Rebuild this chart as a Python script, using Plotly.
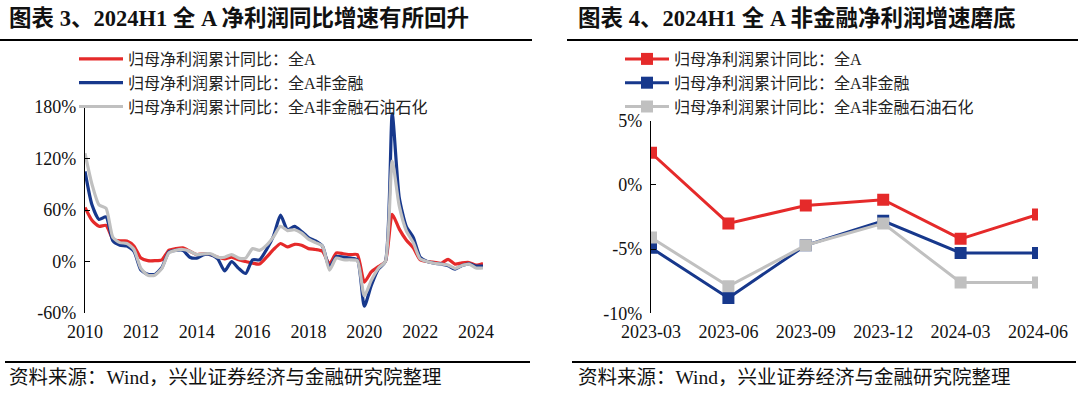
import pandas as pd
import plotly.graph_objects as go

# ---------------- data ----------------
quarters = pd.date_range("2010-03-31", periods=58, freq="QE")

all_a = [63, 48, 41, 42, 26, 24, 24, 18, 4, 1, 1, 2, 13, 15, 16, 12, 8, 9, 8, 5,
         3, 5, 2, 0, -2, -3, 5, 14, 21, 17, 20, 19, 15, 14, 12, -3, 10, 9, 8, 8,
         -24, -12, -6, 0, 55, 38, 25, 16, 2, 0, -1, -2, 2.5, -3.0, -1.6, -1.2, -4.2, -2.3]
non_fin = [105, 66, 49, 52, 24, 19, 18, 12, -10, -15, -15, -7, 11, 13, 13, 5, 4, 8, 8, 3,
           -11, 0, -8, -14, 2, 2, 14, 30, 54, 37, 41, 35, 28, 24, 18, -7, 6, 5, 4, 2,
           -52, -28, -9, 0, 172, 75, 41, 28, 5, 0, -2, -3, -4.9, -8.8, -4.7, -2.8, -5.3, -5.3]
non_fin_oil = [126, 90, 66, 62, 28, 22, 21, 14, -8, -16, -16, -8, 10, 13, 14, 12, 8, 9, 9, 5,
               5, 8, 4, 4, 15, 13, 19, 29, 41, 36, 37, 33, 26, 22, 18, -10, 4, 2, 2, 1,
               -40, -22, -8, 0, 117, 65, 36, 22, 3, 0, -2, -3, -4.1, -7.9, -4.7, -3.0, -7.6, -7.6]

recent_q = ["2023-03", "2023-06", "2023-09", "2023-12", "2024-03", "2024-06"]
recent_all_a = [2.5, -3.0, -1.6, -1.15, -4.2, -2.3]
recent_non_fin = [-4.9, -8.8, -4.7, -2.8, -5.3, -5.3]
recent_non_fin_oil = [-4.1, -7.9, -4.7, -3.0, -7.6, -7.6]

names = ["归母净利润累计同比：全A", "归母净利润累计同比：全A非金融", "归母净利润累计同比：全A非金融石油石化"]
colors = ["#E52A2A", "#17388C", "#C0C0C0"]

left_yticks = [-60, 0, 60, 120, 180]
left_ytext = ["-60%", "0%", "60%", "120%", "180%"]
right_yticks = [-10, -5, 0, 5]
right_ytext = ["-10%", "-5%", "0%", "5%"]

title_left = "图表 3、2024H1 全 A 净利润同比增速有所回升"
title_right = "图表 4、2024H1 全 A 非金融净利润增速磨底"
source_text = "资料来源：Wind，兴业证券经济与金融研究院整理"

# ---------------- layout geometry ----------------
W, H = 1080, 395
def px(x): return x / W
def py(y): return 1 - y / H

FONT = "Liberation Serif, Noto Sans CJK SC, serif"

L_dom_x = [px(85), px(483)]
L_dom_y = [py(313), py(107)]
R_dom_x = [px(651), px(1038)]
R_dom_y = [py(313.3), py(120.7)]

L_zero = L_dom_y[0] + (0 - (-60)) / 240 * (L_dom_y[1] - L_dom_y[0])
R_zero = R_dom_y[0] + (0 - (-10)) / 15 * (R_dom_y[1] - R_dom_y[0])

fig = go.Figure()

for name, vals, c in zip(names, [all_a, non_fin, non_fin_oil], colors):
    fig.add_trace(go.Scatter(
        x=quarters, y=vals, name=name, mode="lines",
        line=dict(color=c, width=3.2, shape="spline", smoothing=0.6),
        xaxis="x", yaxis="y", legend="legend"))

for name, vals, c in zip(names, [recent_all_a, recent_non_fin, recent_non_fin_oil], colors):
    fig.add_trace(go.Scatter(
        x=recent_q, y=vals, name=name, mode="lines+markers",
        line=dict(color=c, width=3),
        marker=dict(symbol="square", size=12, color=c),
        xaxis="x2", yaxis="y2", legend="legend2"))

tickfont = dict(family=FONT, size=18, color="#111")
legfont = dict(family=FONT, size=16, color="#222")

fig.update_layout(
    width=W, height=H,
    margin=dict(l=0, r=0, t=0, b=0, autoexpand=False),
    paper_bgcolor="white", plot_bgcolor="white",
    showlegend=True,
    xaxis=dict(domain=L_dom_x, anchor="y", type="date",
               range=["2010-03-31", "2024-06-30"],
               tick0="2010-03-31", dtick="M24", tickformat="%Y",
               showline=False, ticks="", showgrid=False, zeroline=False,
               tickfont=tickfont, ticklabelstandoff=6, automargin=False),
    xaxis3=dict(overlaying="x", matches="x", anchor="free", position=L_zero,
                type="date", tick0="2010-03-31", dtick="M24",
                showline=True, linecolor="black", linewidth=1.3,
                ticks="inside", ticklen=5, tickcolor="black",
                showticklabels=False, showgrid=False, zeroline=False, automargin=False),
    yaxis=dict(domain=L_dom_y, anchor="x", range=[-60, 180],
               tickvals=left_yticks, ticktext=left_ytext,
               showline=True, linecolor="black", linewidth=1.3,
               ticks="inside", ticklen=5, tickcolor="black",
               showgrid=False, zeroline=False, tickfont=tickfont,
               ticklabelstandoff=4, automargin=False),
    xaxis2=dict(domain=R_dom_x, anchor="y2", type="category",
                range=[0, 5], showline=False, ticks="", showgrid=False,
                zeroline=False, tickfont=tickfont, ticklabelstandoff=6, automargin=False),
    xaxis4=dict(overlaying="x2", matches="x2", anchor="free", position=R_zero,
                type="category",
                showline=True, linecolor="black", linewidth=1.3,
                ticks="inside", ticklen=5, tickcolor="black",
                showticklabels=False, showgrid=False, zeroline=False, automargin=False),
    yaxis2=dict(domain=R_dom_y, anchor="x2", range=[-10, 5],
                tickvals=right_yticks, ticktext=right_ytext,
                showline=True, linecolor="black", linewidth=1.3,
                ticks="inside", ticklen=5, tickcolor="black",
                showgrid=False, zeroline=False, tickfont=tickfont,
                ticklabelstandoff=4, automargin=False),
    legend=dict(x=px(74), y=py(42), xanchor="left", yanchor="top",
                font=legfont, bgcolor="rgba(0,0,0,0)", tracegroupgap=0, itemwidth=44),
    legend2=dict(x=px(620), y=py(42), xanchor="left", yanchor="top",
                 font=legfont, bgcolor="rgba(0,0,0,0)", tracegroupgap=0, itemwidth=44),
)

# titles
fig.add_annotation(text="<b>" + title_left + "</b>", x=px(7), y=py(18), xref="paper", yref="paper",
                   xanchor="left", yanchor="middle", showarrow=False,
                   font=dict(family=FONT, size=22.5, color="#111"))
fig.add_annotation(text="<b>" + title_right + "</b>", x=px(576), y=py(18), xref="paper", yref="paper",
                   xanchor="left", yanchor="middle", showarrow=False,
                   font=dict(family=FONT, size=22.5, color="#111"))
# sources
for sx in [px(7), px(576)]:
    fig.add_annotation(text=source_text, x=sx, y=py(377), xref="paper", yref="paper",
                       xanchor="left", yanchor="middle", showarrow=False,
                       font=dict(family=FONT, size=19.5, color="#111"))

# rules
for x0, x1 in [(0, 532), (567, 1078)]:
    fig.add_shape(type="line", xref="paper", yref="paper", x0=px(x0), x1=px(x1),
                  y0=py(40), y1=py(40), line=dict(color="black", width=2))
    fig.add_shape(type="line", xref="paper", yref="paper", x0=px(x0 + 5), x1=px(x1 - 2),
                  y0=py(362), y1=py(362), line=dict(color="black", width=2))

fig.write_html("out.html", config={"displayModeBar": False},
               post_script="document.body.style.margin='0px';")
